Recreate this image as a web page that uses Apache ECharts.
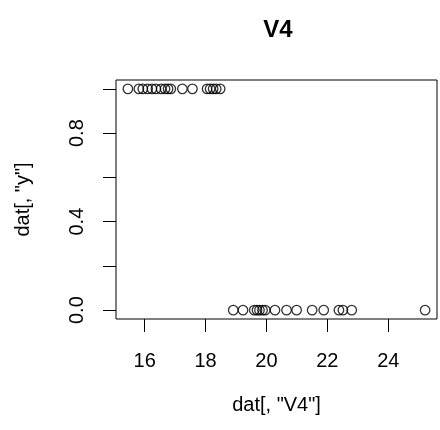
<!DOCTYPE html>
<html>
<head>
<meta charset="utf-8">
<script src="https://cdn.jsdelivr.net/npm/echarts@6/dist/echarts.min.js"></script>
<style>
  html, body { margin: 0; padding: 0; background: #fff; }
  #main { width: 440px; height: 430px; }
</style>
</head>
<body>
<div id="main"></div>
<script>
// V4 values for y == 1
var v4Ones = [15.45, 15.81, 15.94, 16.10, 16.24, 16.37, 16.54, 16.67, 16.77, 16.86,
  17.24, 17.57, 18.05, 18.15, 18.25, 18.35, 18.48];
// V4 values for y == 0
var v4Zeros = [18.91, 19.23, 19.60, 19.69, 19.77, 19.87, 19.96, 20.28, 20.66, 20.99,
  21.50, 21.88, 22.38, 22.51, 22.80, 25.21];
var xTicks = [16, 18, 20, 22, 24];
var yTicks = [0, 0.2, 0.4, 0.6, 0.8, 1];
var yLabels = [0, 0.4, 0.8];

var points = [];
v4Ones.forEach(function(v){ points.push([v, 1]); });
v4Zeros.forEach(function(v){ points.push([v, 0]); });

var font = 'Liberation Sans, Arial, sans-serif';
var chart = echarts.init(document.getElementById('main'));
var option = {
  animation: false,
  title: {
    text: 'V4',
    left: 273, top: 13, textAlign: 'center',
    textStyle: { fontFamily: font, fontSize: 24, fontWeight: 'bold', color: '#000' }
  },
  grid: {
    left: 116, right: 3, top: 80, bottom: 111,
    show: true, borderColor: '#000', borderWidth: 1
  },
  xAxis: {
    type: 'value', min: 15.06, max: 25.6,
    name: 'dat[, "V4"]', nameLocation: 'middle', nameGap: 76,
    nameTextStyle: { fontFamily: font, fontSize: 20, color: '#000' },
    axisLine: { show: false, onZero: false },
    splitLine: { show: false },
    axisTick: { show: true, length: 13, customValues: xTicks, lineStyle: { color: '#000' } },
    axisLabel: { customValues: xTicks, margin: 32, fontFamily: font, fontSize: 20, color: '#000' }
  },
  yAxis: {
    type: 'value', min: -0.04, max: 1.04,
    name: 'dat[, "y"]', nameLocation: 'middle', nameGap: 83, nameRotate: 90,
    nameTextStyle: { fontFamily: font, fontSize: 20, color: '#000' },
    axisLine: { show: false, onZero: false },
    splitLine: { show: false },
    axisTick: { show: true, length: 13, customValues: yTicks, lineStyle: { color: '#000' } },
    axisLabel: {
      customValues: yLabels, rotate: 90, margin: 29,
      fontFamily: font, fontSize: 20, color: '#000',
      formatter: function(v){ return v.toFixed(1); }
    }
  },
  series: [{
    type: 'scatter',
    data: points,
    symbol: 'circle',
    symbolSize: 9.5,
    itemStyle: { color: 'transparent', borderColor: '#000', borderWidth: 1.3 }
  }]
};
chart.setOption(option);
</script>
</body>
</html>
